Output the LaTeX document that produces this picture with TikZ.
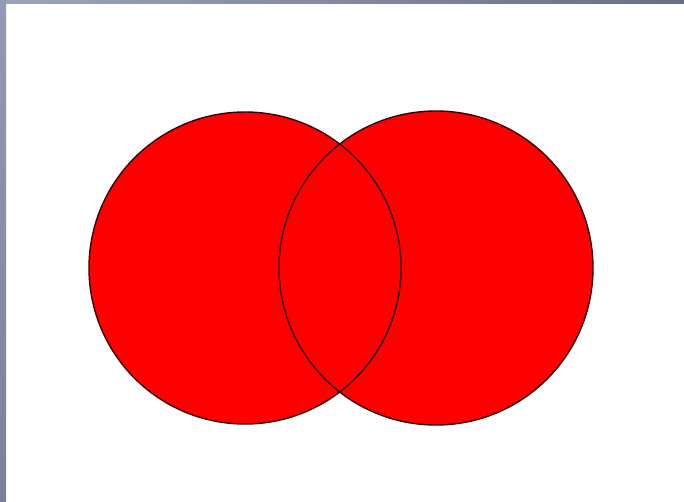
\documentclass[tikz,border=0pt]{standalone}
\begin{document}
\begin{tikzpicture}[x=1pt,y=-1pt,
  venn/.style={line width=1.4pt, draw=black!80!red}]
\useasboundingbox (0,0) rectangle (684,501);
\fill[white] (0,0) rectangle (684,501);
\shade[left color={rgb,255:red,154;green,164;blue,188}, right color={rgb,255:red,106;green,110;blue,132}] (0,0) rectangle (684,3);
\shade[top color={rgb,255:red,146;green,154;blue,182}, bottom color={rgb,255:red,122;green,128;blue,156}] (0,0) rectangle (6,501);
\coordinate (cl) at (245,268);
\coordinate (cr) at (436,268);
\fill[red] (cl) circle (156);
\fill[red] (cr) circle (157);
\draw[venn] (cl) circle (156);
\draw[venn] (cr) circle (157);
\end{tikzpicture}
\end{document}
